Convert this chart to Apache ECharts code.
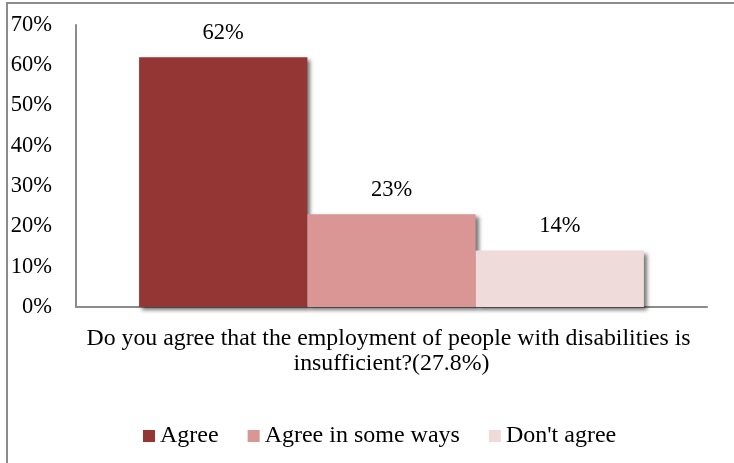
<!DOCTYPE html>
<html><head><meta charset="utf-8">
<script src="https://cdn.jsdelivr.net/npm/echarts@6/dist/echarts.min.js"></script>
<style>html,body{margin:0;padding:0;background:#fff}#c{width:734px;height:463px}</style>
</head><body><div id="c"></div>
<script>
const categories = ["Do you agree that the employment of people with disabilities is insufficient?(27.8%)"];
const seriesNames = ["Agree", "Agree in some ways", "Don't agree"];
const agreeValues = [62];
const someWaysValues = [23];
const disagreeValues = [14];
const yTicks = [0, 10, 20, 30, 40, 50, 60, 70];
const colors = ["#943634", "#D99694", "#F0DBDB"];
const font = "'Liberation Serif','Times New Roman',serif";

const valuesList = [agreeValues, someWaysValues, disagreeValues];
const chart = echarts.init(document.getElementById('c'));
chart.setOption({
  animation: false,
  graphic: [{type:'rect', shape:{x:7,y:3,width:800,height:520}, style:{fill:'none', stroke:'#8c8c8c', lineWidth:2}, silent:true}],
  grid: {left:76, right:27, top:25, bottom:156},
  legend: {
    data: seriesNames, top: 419, left: 138, icon: 'rect', itemWidth: 12, itemHeight: 12, itemGap: 29,
    textStyle: {fontFamily: font, fontSize: 24, color: '#000', padding: [0,0,0,0]}
  },
  xAxis: {
    type: 'category', data: categories,
    axisLine: {lineStyle: {color: '#8c8c8c', width: 2}},
    axisTick: {show: false},
    axisLabel: {fontFamily: font, fontSize: 23.8, color: '#000', width: 650, overflow: 'break', lineHeight: 25, margin: 19, interval: 0}
  },
  yAxis: {
    type: 'value', min: yTicks[0], max: yTicks[yTicks.length-1], interval: 10,
    axisLine: {show: true, lineStyle: {color: '#8c8c8c', width: 2}},
    axisTick: {show: false},
    splitLine: {show: false},
    axisLabel: {formatter: '{value}%', fontFamily: font, fontSize: 22.5, color: '#000', margin: 24}
  },
  series: seriesNames.map((n, i) => ({
    name: n, type: 'bar', data: valuesList[i], barGap: '0%', barCategoryGap: '20%',
    itemStyle: {color: colors[i], shadowColor: 'rgba(0,0,0,0.55)', shadowBlur: 4, shadowOffsetX: 3, shadowOffsetY: 3},
    label: {show: true, position: 'top', distance: 13, formatter: '{c}%', fontFamily: font, fontSize: 22.5, color: '#000'}
  }))
});
</script></body></html>
